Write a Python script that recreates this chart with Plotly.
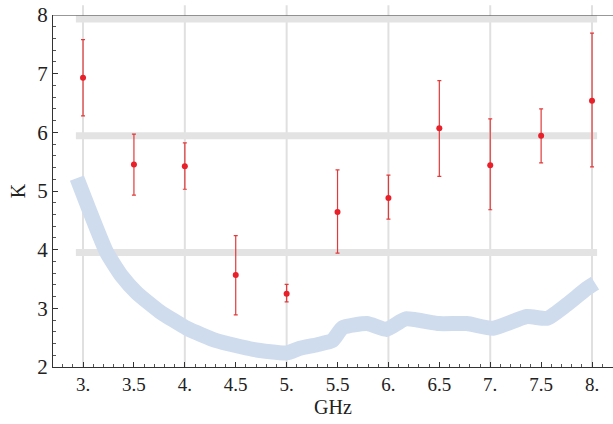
import plotly.graph_objects as go

# Measured points (GHz, K) with asymmetric error bars
freq = [3.0, 3.5, 4.0, 4.5, 5.0, 5.5, 6.0, 6.5, 7.0, 7.5, 8.0]
k_val = [6.93, 5.45, 5.42, 3.57, 3.25, 4.64, 4.88, 6.07, 5.44, 5.94, 6.54]
k_hi = [7.58, 5.97, 5.82, 4.24, 3.41, 5.36, 5.27, 6.88, 6.23, 6.40, 7.69]
k_lo = [6.28, 4.93, 5.03, 2.89, 3.11, 3.94, 4.52, 5.25, 4.68, 5.48, 5.41]

# Light-blue band curve
curve_x = [2.94, 3.06, 3.23, 3.38, 3.53, 3.75, 4.02, 4.31, 4.67, 5.0, 5.13, 5.3, 5.45,
           5.55, 5.79, 5.98, 6.17, 6.5, 6.77, 7.03, 7.36, 7.56, 7.75, 7.95, 8.03]
curve_y = [5.22, 4.68, 3.96, 3.55, 3.26, 2.95, 2.66, 2.45, 2.3, 2.24, 2.32, 2.38, 2.45,
           2.67, 2.74, 2.64, 2.82, 2.74, 2.74, 2.66, 2.86, 2.83, 3.06, 3.34, 3.43]

# Gray horizontal reference bands
band_levels = [3.95, 5.94, 7.93]
band_x = [2.93, 8.05]

x_ticks = [3.0, 3.5, 4.0, 4.5, 5.0, 5.5, 6.0, 6.5, 7.0, 7.5, 8.0]
x_tick_labels = ["3.", "3.5", "4.", "4.5", "5.", "5.5", "6.", "6.5", "7.", "7.5", "8."]
grid_x = [3, 4, 5, 6, 7, 8]
y_ticks = [2, 3, 4, 5, 6, 7, 8]

SERIF = "Liberation Serif, Times New Roman, serif"

fig = go.Figure()

for lv in band_levels:
    fig.add_trace(go.Scatter(x=band_x, y=[lv, lv], mode="lines",
                             line=dict(color="#e3e3e3", width=7),
                             hoverinfo="skip", showlegend=False))

fig.add_trace(go.Scatter(x=curve_x, y=curve_y, mode="lines",
                         line=dict(color="#cfdcee", width=15, shape="spline", smoothing=0.5),
                         hoverinfo="skip", showlegend=False))

fig.add_trace(go.Scatter(
    x=freq, y=k_val, mode="markers",
    marker=dict(color="#e8202a", size=6),
    error_y=dict(type="data", symmetric=False,
                 array=[h - v for h, v in zip(k_hi, k_val)],
                 arrayminus=[v - l for v, l in zip(k_val, k_lo)],
                 color="#e23a3a", thickness=1.2, width=2),
    showlegend=False))

shapes = []
for gx in grid_x:
    shapes.append(dict(type="line", xref="x", yref="paper", x0=gx, x1=gx, y0=0, y1=1.028,
                       line=dict(color="#e0e0e0", width=2), layer="below"))
# top frame line
shapes.append(dict(type="line", xref="paper", yref="y", x0=0, x1=1, y0=8, y1=8,
                   line=dict(color="#333333", width=1)))

fig.update_layout(
    width=613, height=424,
    margin=dict(l=53, r=0, t=15, b=57),
    paper_bgcolor="white", plot_bgcolor="white",
    font=dict(family=SERIF, color="#222222", size=18),
    shapes=shapes,
    xaxis=dict(range=[2.705, 8.206], tickvals=x_ticks, ticktext=x_tick_labels,
               ticks="inside", ticklen=5, tickcolor="#333", showgrid=False,
               showline=True, linecolor="#333", linewidth=1,
               minor=dict(ticks="inside", ticklen=3, dtick=0.1, tickcolor="#555"),
               tickfont=dict(family=SERIF, size=19, color="#222222"), zeroline=False,
               title=dict(text="GHz", font=dict(family=SERIF, size=20, color="#222222"), standoff=6)),
    yaxis=dict(range=[2, 8], tickvals=y_ticks, ticks="inside", ticklen=5, tickcolor="#333",
               showgrid=False, showline=True, linecolor="#333", linewidth=1,
               minor=dict(ticks="inside", ticklen=3, dtick=0.2, tickcolor="#555"),
               tickfont=dict(family=SERIF, size=21, color="#222222"), zeroline=False,
               title=dict(text="K", font=dict(family=SERIF, size=20, color="#222222"), standoff=6)),
)

fig.write_html("out.html")
